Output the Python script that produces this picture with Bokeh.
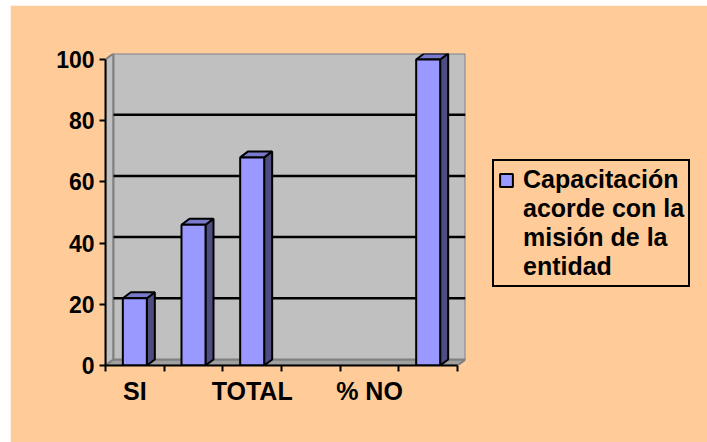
from bokeh.plotting import figure
from bokeh.models import (Range1d, FixedTicker, ColumnDataSource, Legend, LegendItem, Spacer)
from bokeh.layouts import column, row
from bokeh.embed import file_html
from bokeh.resources import INLINE

# ---- data ----
categories = ["SI", "NO", "TOTAL", "% SI", "% NO", "% TOTAL"]
values = [22, 46, 68, 0, 0, 100]
shown_labels = ["SI", "TOTAL", "% NO"]
y_ticks = [0, 20, 40, 60, 80, 100]
series_name = "Capacitación acorde con la misión de la entidad"
legend_lines = ["Capacitación", "acorde con la", "misión de la", "entidad"]

# ---- style ----
PEACH = "#FFCC99"
WALL = "#C0C0C0"
WALL_EDGE = "#808080"
FLOOR = "#A0A0A0"
FRONT = "#9999FF"
SIDE = "#4D4D80"
TOP = "#7A7ACC"
FONT = "Liberation Sans"

n = len(categories)
ymax = max(y_ticks)
cat_px = 58.67          # pixels per category
y_px = 3.06             # pixels per unit
dx = 8 / cat_px         # depth offset (x, data units)
dy = 6 / y_px           # depth offset (y, data units)
half = 0.2045           # half bar width

p = figure(frame_width=360, frame_height=312,
           x_range=Range1d(0, n + dx), y_range=Range1d(0, ymax + dy),
           output_backend="svg", toolbar_location=None,
           min_border_left=95, min_border_right=242,
           min_border_top=48, min_border_bottom=77)
p.background_fill_color = PEACH
p.border_fill_color = PEACH
p.outline_line_color = None
p.xgrid.visible = False
p.ygrid.visible = False

# walls and floor
p.patch([0, dx, dx, 0], [0, dy, ymax + dy, ymax], fill_color=WALL,
        line_color=WALL_EDGE, line_width=2)
p.patch([0, n, n + dx, dx], [0, 0, dy, dy], fill_color=FLOOR,
        line_color=WALL_EDGE, line_width=2)
p.quad(left=dx, right=n + dx, bottom=dy, top=ymax + dy, fill_color=WALL,
       line_color=WALL_EDGE, line_width=2)
grid_vals = [t for t in y_ticks if 0 < t < ymax]
p.segment(x0=[dx] * len(grid_vals), x1=[n + dx] * len(grid_vals),
          y0=[t + dy for t in grid_vals], y1=[t + dy for t in grid_vals],
          line_color="black", line_width=2.5)

# 3D bars
idx = [i for i, v in enumerate(values) if v > 0]
cx = [i + 0.5 for i in idx]
vals = [values[i] for i in idx]
side_xs = [[c + half, c + half + dx, c + half + dx, c + half] for c in cx]
side_ys = [[0, dy, v + dy, v] for v in vals]
top_xs = [[c - half, c + half, c + half + dx, c - half + dx] for c in cx]
top_ys = [[v, v, v + dy, v + dy] for v in vals]
p.patches(side_xs, side_ys, fill_color=SIDE, line_color="black", line_width=2)
p.patches(top_xs, top_ys, fill_color=TOP, line_color="black", line_width=2)
src = ColumnDataSource(dict(left=[c - half for c in cx], right=[c + half for c in cx],
                            top=vals, bottom=[0] * len(vals)))
bars = p.quad(left="left", right="right", top="top", bottom="bottom", source=src,
              fill_color=FRONT, line_color="black", line_width=2)

# axes
yax = p.yaxis[0]
yax.ticker = FixedTicker(ticks=y_ticks)
yax.bounds = (0, ymax)
yax.axis_line_width = 2
yax.axis_line_color = "black"
yax.major_tick_out = 6
yax.major_tick_in = 0
yax.major_tick_line_width = 2
yax.major_tick_line_color = "black"
yax.minor_tick_line_color = None
yax.major_label_text_font = FONT
yax.major_label_text_font_style = "bold"
yax.major_label_text_font_size = "23px"
yax.major_label_text_color = "black"
yax.major_label_standoff = 5

xax = p.xaxis[0]
label_pos = [categories.index(s) + 0.5 for s in shown_labels]
xax.ticker = FixedTicker(ticks=label_pos, minor_ticks=list(range(n + 1)))
xax.major_label_overrides = {pos: s for pos, s in zip(label_pos, shown_labels)}
xax.bounds = (0, n)
xax.axis_line_width = 2
xax.axis_line_color = "black"
xax.major_tick_line_color = None
xax.major_tick_out = 0
xax.major_tick_in = 0
xax.minor_tick_out = 6
xax.minor_tick_in = 0
xax.minor_tick_line_width = 2
xax.minor_tick_line_color = "black"
xax.major_label_text_font = FONT
xax.major_label_text_font_style = "bold"
xax.major_label_text_font_size = "25px"
xax.major_label_text_color = "black"
xax.major_label_standoff = 5

# legend (multi-line label as stacked items)
dummy = p.quad(left=[], right=[], top=[], bottom=[], fill_alpha=0, line_alpha=0)
items = [LegendItem(label=legend_lines[0], renderers=[bars])]
items += [LegendItem(label=t, renderers=[dummy]) for t in legend_lines[1:]]
legend = Legend(items=items, location=(27, 78))
legend.background_fill_color = PEACH
legend.background_fill_alpha = 1
legend.border_line_color = "black"
legend.border_line_alpha = 1
legend.border_line_width = 2
legend.label_text_font = FONT
legend.label_text_font_style = "bold"
legend.label_text_font_size = "25px"
legend.label_text_color = "black"
legend.glyph_width = 16
legend.glyph_height = 16
legend.label_standoff = 9
legend.spacing = 0
legend.padding = 4
legend.margin = 0
legend.label_height = 27
p.add_layout(legend, "right")

layout = column(Spacer(height=5), row(Spacer(width=10), p))
open("out.html", "w").write(file_html(layout, INLINE))
